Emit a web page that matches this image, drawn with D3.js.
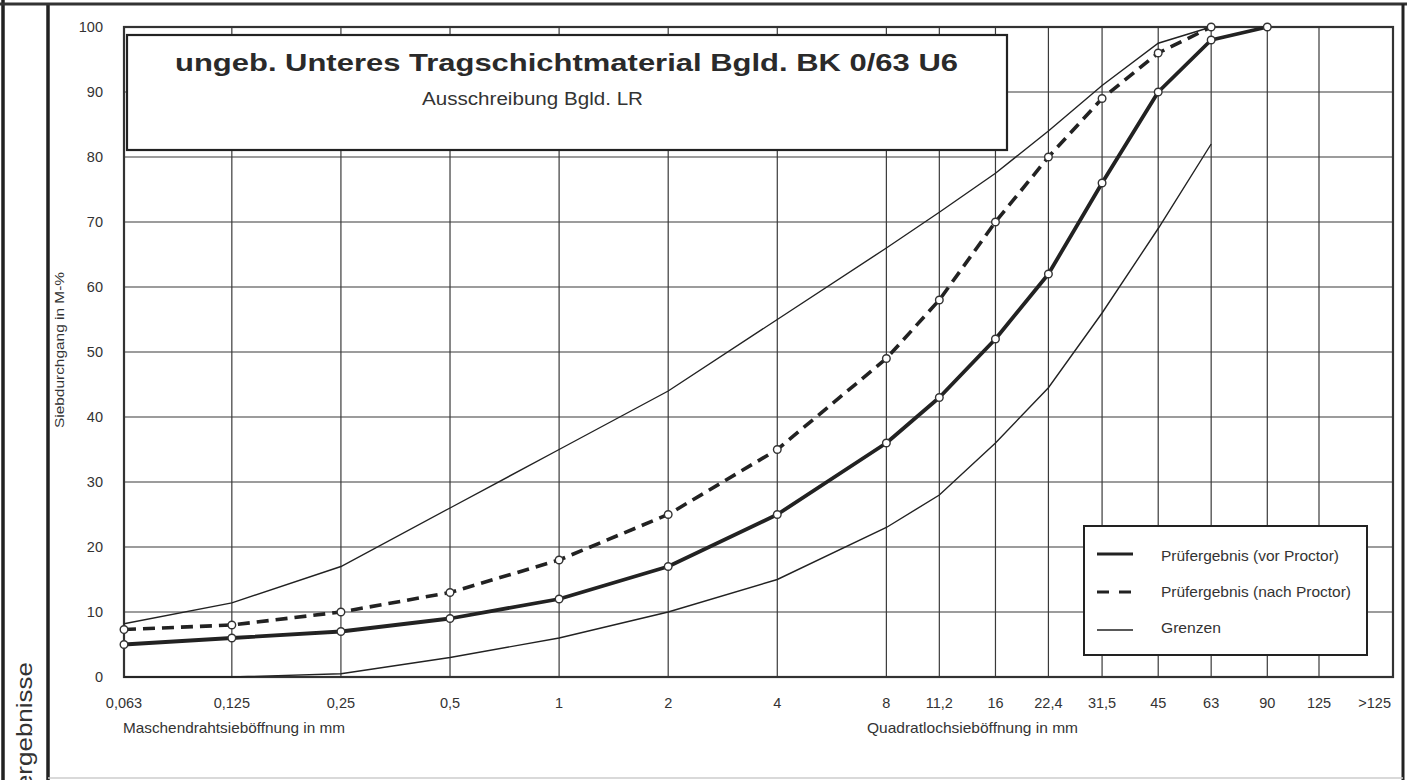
<!DOCTYPE html>
<html lang="de">
<head>
<meta charset="UTF-8">
<title>Sieblinie BK 0/63 U6</title>
<script src="https://d3js.org/d3.v7.min.js"></script>
<style>
  body { margin: 0; background: #fff; font-family: 'Liberation Sans', Arial, sans-serif; }
  svg { display: block; }
  .grid line { stroke: #3a3a3a; stroke-width: 1.2px; }
  .tick-label { font-size: 14.5px; fill: #333; }
</style>
</head>
<body>
<div id="chart"></div>
<script>
// sieve sizes in mm
const sieves = [0.063, 0.125, 0.25, 0.5, 1, 2, 4, 8, 11.2, 16, 22.4, 31.5, 45, 63, 90];
const sieveLabels = ["0,063", "0,125", "0,25", "0,5", "1", "2", "4", "8", "11,2", "16", "22,4", "31,5", "45", "63", "90", "125", ">125"];
const gridSieves = [0.063, 0.125, 0.25, 0.5, 1, 2, 4, 8, 11.2, 16, 22.4, 31.5, 45, 63, 90, 125];
const labelSieves = gridSieves.concat([178]); // ">125" sits in the last column

// Siebdurchgang in M-%
const vorProctor  = [5, 6, 7, 9, 12, 17, 25, 36, 43, 52, 62, 76, 90, 98, 100];
const nachProctor = [7.3, 8, 10, 13, 18, 25, 35, 49, 58, 70, 80, 89, 96, 100];
const grenzeOben  = [8.2, 11.4, 17, 26, 35, 44, 55, 66, 71.5, 77.5, 84, 91, 97.5, 100];
const grenzeUnten = [0, 0, 0.5, 3, 6, 10, 15, 23, 28, 36, 44.5, 56, 69, 82];
const yTicks = [0, 10, 20, 30, 40, 50, 60, 70, 80, 90, 100];

const W = 1407, H = 780;
const plot = { left: 124, right: 1393, top: 27, bottom: 677 };

const svg = d3.select("#chart").append("svg").attr("width", W).attr("height", H);

const x = d3.scaleLog().domain([0.063, 125]).range([plot.left, 1319]);
const y = d3.scaleLinear().domain([0, 100]).range([plot.bottom, plot.top]);

// outer frame
svg.append("line").attr("x1", 3).attr("x2", 3).attr("y1", 0).attr("y2", H).attr("stroke", "#222").attr("stroke-width", 3.5);
svg.append("line").attr("x1", 48).attr("x2", 48).attr("y1", 4).attr("y2", H).attr("stroke", "#222").attr("stroke-width", 3.5);
svg.append("line").attr("x1", 0).attr("x2", W).attr("y1", 4).attr("y2", 4).attr("stroke", "#333").attr("stroke-width", 3);
svg.append("line").attr("x1", 1403).attr("x2", 1403).attr("y1", 4).attr("y2", H).attr("stroke", "#222").attr("stroke-width", 3);
svg.append("line").attr("x1", 48).attr("x2", 1403).attr("y1", 778).attr("y2", 778).attr("stroke", "#ccc").attr("stroke-width", 1.5);

svg.append("text")
  .attr("transform", "translate(32,662) rotate(-90) scale(1,0.85)")
  .attr("text-anchor", "end")
  .style("font-size", "26px").style("fill", "#333")
  .text("Prüfergebnisse");

// grid
const grid = svg.append("g").attr("class", "grid");
grid.selectAll(".v").data(gridSieves).join("line")
  .attr("x1", d => x(d)).attr("x2", d => x(d))
  .attr("y1", plot.top).attr("y2", plot.bottom);
grid.selectAll(".h").data(yTicks).join("line")
  .attr("x1", plot.left).attr("x2", plot.right)
  .attr("y1", d => y(d)).attr("y2", d => y(d));

svg.append("rect")
  .attr("x", plot.left).attr("y", plot.top)
  .attr("width", plot.right - plot.left).attr("height", plot.bottom - plot.top)
  .attr("fill", "none").attr("stroke", "#333").attr("stroke-width", 2.2);

// axis labels
svg.selectAll(".ylab").data(yTicks).join("text")
  .attr("class", "tick-label")
  .attr("x", 103).attr("y", d => y(d)).attr("dy", "0.35em")
  .attr("text-anchor", "end")
  .text(d => d);

svg.selectAll(".xlab").data(labelSieves).join("text")
  .attr("class", "tick-label")
  .attr("x", d => x(d)).attr("y", 708)
  .attr("text-anchor", "middle")
  .text((d, i) => sieveLabels[i]);

svg.append("text").attr("x", 123).attr("y", 733)
  .attr("textLength", 222).attr("lengthAdjust", "spacingAndGlyphs")
  .style("font-size", "15px").style("fill", "#333")
  .text("Maschendrahtsieböffnung in mm");
svg.append("text").attr("x", 867).attr("y", 733)
  .attr("textLength", 211).attr("lengthAdjust", "spacingAndGlyphs")
  .style("font-size", "15px").style("fill", "#333")
  .text("Quadratlochsieböffnung in mm");

svg.append("text")
  .attr("transform", "translate(64,350) rotate(-90)")
  .attr("text-anchor", "middle")
  .attr("textLength", 156).attr("lengthAdjust", "spacingAndGlyphs")
  .style("font-size", "13px").style("fill", "#333")
  .text("Siebdurchgang in M-%");

// title box
svg.append("rect").attr("x", 127).attr("y", 35).attr("width", 880).attr("height", 115)
  .attr("fill", "#fff").attr("stroke", "#222").attr("stroke-width", 2.2);
svg.append("text").attr("x", 175).attr("y", 71)
  .attr("textLength", 783).attr("lengthAdjust", "spacingAndGlyphs")
  .style("font-size", "24.5px").style("font-weight", "bold").style("fill", "#2a2a2a")
  .text("ungeb. Unteres Tragschichtmaterial Bgld. BK 0/63 U6");
svg.append("text").attr("x", 422).attr("y", 105)
  .attr("textLength", 221).attr("lengthAdjust", "spacingAndGlyphs")
  .style("font-size", "17.5px").style("fill", "#333")
  .text("Ausschreibung Bgld. LR");

// curves
const line = d3.line()
  .x(d => x(d[0])).y(d => y(d[1]));
const pairs = vals => vals.map((v, i) => [sieves[i], v]);

svg.append("path").datum(pairs(grenzeOben)).attr("d", line)
  .attr("fill", "none").attr("stroke", "#222").attr("stroke-width", 1.4);
svg.append("path").datum(pairs(grenzeUnten)).attr("d", line)
  .attr("fill", "none").attr("stroke", "#222").attr("stroke-width", 1.4);
svg.append("path").datum(pairs(nachProctor)).attr("d", line)
  .attr("fill", "none").attr("stroke", "#222").attr("stroke-width", 3.6)
  .attr("stroke-dasharray", "12,7");
svg.append("path").datum(pairs(vorProctor)).attr("d", line)
  .attr("fill", "none").attr("stroke", "#222").attr("stroke-width", 3.8)
  .attr("stroke-linejoin", "round");

[vorProctor, nachProctor].forEach(vals => {
  svg.append("g").selectAll("circle").data(pairs(vals)).join("circle")
    .attr("cx", d => x(d[0])).attr("cy", d => y(d[1])).attr("r", 3.8)
    .attr("fill", "#fff").attr("stroke", "#333").attr("stroke-width", 1.4);
});

// legend
const lg = svg.append("g").attr("transform", "translate(1084,526)");
lg.append("rect").attr("width", 283).attr("height", 129)
  .attr("fill", "#fff").attr("stroke", "#222").attr("stroke-width", 2);
const legendItems = [
  { label: "Prüfergebnis (vor Proctor)", w: 3, dash: null, len: 178 },
  { label: "Prüfergebnis (nach Proctor)", w: 3, dash: "12,10", len: 190 },
  { label: "Grenzen", w: 1.4, dash: null, len: 60 }
];
legendItems.forEach((it, i) => {
  const yy = 30 + i * 36;
  lg.append("line").attr("x1", 13).attr("x2", 49).attr("y1", yy - 2 + i * 2).attr("y2", yy - 2 + i * 2)
    .attr("stroke", "#222").attr("stroke-width", it.w)
    .attr("stroke-dasharray", it.dash);
  lg.append("text").attr("x", 77).attr("y", yy).attr("dy", "0.35em")
    .attr("textLength", it.len).attr("lengthAdjust", "spacingAndGlyphs")
    .style("font-size", "15px").style("fill", "#333")
    .text(it.label);
});
</script>
</body>
</html>
